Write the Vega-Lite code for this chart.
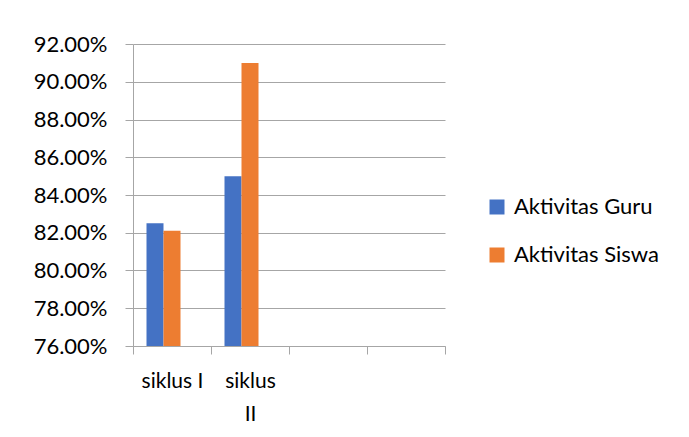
{
  "$schema": "https://vega.github.io/schema/vega-lite/v6.json",
  "width": 312,
  "height": 302,
  "autosize": "none",
  "padding": {"left": 133, "top": 44, "right": 244, "bottom": 91},
  "background": "white",
  "config": {"view": {"stroke": null}, "font": "Lato"},
  "data": {
    "values": [
      {"siklus": "siklus I", "seri": "Aktivitas Guru", "nilai": 0.825},
      {"siklus": "siklus I", "seri": "Aktivitas Siswa", "nilai": 0.821},
      {"siklus": "siklus II", "seri": "Aktivitas Guru", "nilai": 0.85},
      {"siklus": "siklus II", "seri": "Aktivitas Siswa", "nilai": 0.91}
    ]
  },
  "mark": {"type": "bar", "clip": true},
  "encoding": {
    "x": {
      "field": "siklus",
      "type": "nominal",
      "scale": {"domain": ["siklus I", "siklus II", "k3", "k4"], "paddingInner": 0, "paddingOuter": 0},
      "axis": {
        "title": null,
        "labelAngle": 0,
        "tickBand": "extent",
        "labelExpr": "datum.value == 'siklus II' ? ['siklus', 'II'] : (datum.value == 'siklus I' ? 'siklus I' : '')",
        "domainColor": "#A6A6A6",
        "tickColor": "#A6A6A6",
        "tickSize": 8,
        "labelFont": "Lato",
        "labelFontSize": 21,
        "labelColor": "#000000",
        "labelPadding": 16,
        "labelLineHeight": 33,
        "labelOverlap": false,
        "grid": false
      }
    },
    "xOffset": {
      "field": "seri",
      "type": "nominal",
      "scale": {"domain": ["Aktivitas Guru", "Aktivitas Siswa", "Seri 3"], "paddingInner": 0, "paddingOuter": 0.794}
    },
    "y": {
      "field": "nilai",
      "type": "quantitative",
      "scale": {"domain": [0.76, 0.92], "zero": false, "nice": false},
      "axis": {
        "title": null,
        "format": ".2%",
        "values": [0.76, 0.78, 0.8, 0.82, 0.84, 0.86, 0.88, 0.9, 0.92],
        "gridColor": "#A6A6A6",
        "domainColor": "#A6A6A6",
        "tickColor": "#A6A6A6",
        "tickSize": 8,
        "labelFont": "Lato",
        "labelFontSize": 22,
        "labelPadding": 18,
        "labelColor": "#000000"
      }
    },
    "color": {
      "field": "seri",
      "type": "nominal",
      "scale": {"domain": ["Aktivitas Guru", "Aktivitas Siswa"], "range": ["#4472C4", "#ED7D31"]},
      "legend": {
        "title": null,
        "orient": "none",
        "legendX": 353,
        "legendY": 152,
        "symbolType": "square",
        "symbolSize": 225,
        "symbolStrokeWidth": 0,
        "labelFont": "Lato",
        "labelFontSize": 22,
        "labelColor": "#000000",
        "labelLimit": 300,
        "labelOffset": 6,
        "rowPadding": 26
      }
    }
  }
}
